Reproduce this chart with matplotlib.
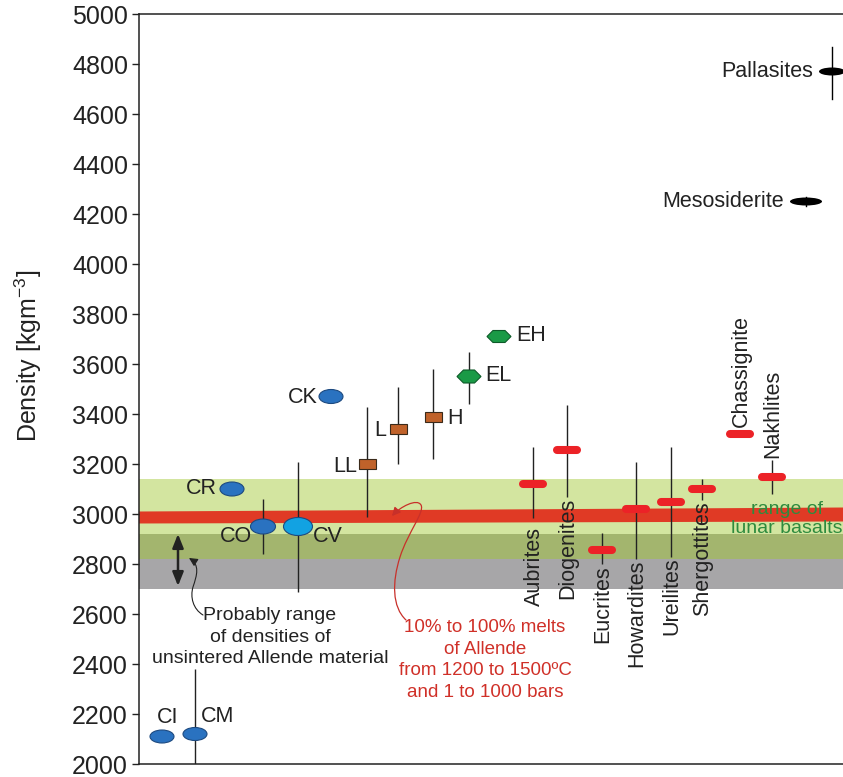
import numpy as np
import matplotlib
matplotlib.use("Agg")
import matplotlib.pyplot as plt
from matplotlib.patches import Ellipse, Polygon, Rectangle, FancyArrowPatch
from matplotlib.path import Path

plt.rcParams["font.family"] = ["Liberation Sans", "DejaVu Sans"]
plt.rcParams["mathtext.fontset"] = "custom"
plt.rcParams["mathtext.rm"] = "Liberation Sans"
plt.rcParams["mathtext.default"] = "regular"

# chondrite groups: mean bulk density and spread (kg m^-3)
chon_names = ["CI", "CM", "CO", "CV", "CR", "CK", "LL", "L", "H", "EL", "EH"]
chon_rho = [2110, 2120, 2950, 2950, 3100, 3470, 3200, 3340, 3390, 3550, 3710]
chon_lo = [None, 1990, 2840, 2690, None, None, 2990, 3200, 3220, 3440, None]
chon_hi = [None, 2380, 3060, 3210, None, None, 3430, 3510, 3580, 3650, None]

# achondrites
achon_names = ["Aubrites", "Diogenites", "Eucrites", "Howardites", "Ureilites",
               "Shergottites", "Chassignite", "Nakhlites"]
achon_rho = [3120, 3255, 2855, 3020, 3050, 3100, 3320, 3150]
achon_lo = [2985, 3068, 2800, 2820, 2830, 3056, None, 3080]
achon_hi = [3270, 3435, 2925, 3210, 3270, 3140, None, 3215]

# stony-irons
si_names = ["Pallasites", "Mesosiderite"]
si_rho = [4770, 4250]
si_lo = [4660, 4232]
si_hi = [4870, 4268]

lunar_basalts = (2820, 3140)
unsintered_allende = (2700, 2920)
melt_left = (2962, 3010)
melt_right = (2970, 3026)

# horizontal layout (x axis is just a slot position)
chon_x = [162, 195, 263, 298, 232, 331, 367, 398, 433, 469, 499]
achon_x = [533, 567, 602, 636, 671, 702, 740, 772]
si_x = [832, 806]
X0, X1 = 139, 843
PX = 4.0  # density units per pixel vertically

fig = plt.figure(figsize=(8.43, 7.77), dpi=100)
ax = fig.add_axes([X0 / 843, 13 / 777, (X1 - X0) / 843, 750 / 777])
ax.set_xlim(X0, X1)
ax.set_ylim(2000, 5000)

# density bands
lo_g, hi_g = lunar_basalts
lo_a, hi_a = unsintered_allende
ax.add_patch(Rectangle((X0, lo_g), X1 - X0, hi_g - lo_g, color="#d3e5a0", lw=0, zorder=0))
ax.add_patch(Rectangle((X0, lo_a), X1 - X0, hi_a - lo_a, color="#a7a6a8", lw=0, zorder=0.1))
ax.add_patch(Rectangle((X0, max(lo_g, lo_a)), X1 - X0, min(hi_g, hi_a) - max(lo_g, lo_a),
                       color="#a3b56e", lw=0, zorder=0.2))
ax.add_patch(Polygon([(X0, melt_left[0]), (X1, melt_right[0]), (X1, melt_right[1]), (X0, melt_left[1])],
                     closed=True, color="#e03a25", lw=0, zorder=0.5))

DARK = "#222222"


def vline(x, lo, hi):
    if lo is not None:
        ax.plot([x, x], [lo, hi], color=DARK, lw=1.0, zorder=2, solid_capstyle="butt")


def hexagon(x, y, w, h, **kw):
    a = h / 2
    pts = [(x - w / 2, y), (x - w / 2 + a, y + h / 2 * PX), (x + w / 2 - a, y + h / 2 * PX),
           (x + w / 2, y), (x + w / 2 - a, y - h / 2 * PX), (x - w / 2 + a, y - h / 2 * PX)]
    ax.add_patch(Polygon(pts, closed=True, **kw))


# chondrites
chon_style = {
    "CI": ("ell", 24, 13, "#2a72c0"), "CM": ("ell", 24, 13, "#2a72c0"),
    "CO": ("ell", 25, 15, "#2a72c0"), "CV": ("ell", 29, 18, "#12a2e2"),
    "CR": ("ell", 24, 14, "#2a72c0"), "CK": ("ell", 24, 14, "#2a72c0"),
    "LL": ("sq", 17, 10, "#c0622a"), "L": ("sq", 17, 10, "#c0622a"),
    "H": ("sq", 17, 10, "#c0622a"), "EL": ("hex", 24, 13, "#1a9a46"),
    "EH": ("hex", 24, 12, "#1a9a46"),
}
chon_lab = {
    "CI": (6, 19, "center"), "CM": (23, 18, "center"), "CO": (-11, -10, "right"),
    "CV": (15, -10, "left"), "CR": (-15, 0, "right"), "CK": (-13, -1, "right"),
    "LL": (-10, -2, "right"), "L": (-12, -2, "right"), "H": (14, -2, "left"),
    "EL": (16, 1, "left"), "EH": (17, 1, "left"),
}
for name, x, rho, lo, hi in zip(chon_names, chon_x, chon_rho, chon_lo, chon_hi):
    vline(x, lo, hi)
    kind, w, h, col = chon_style[name]
    if kind == "ell":
        ax.add_patch(Ellipse((x, rho), w, h * PX, facecolor=col, edgecolor="#1d4a80", lw=0.8, zorder=3))
    elif kind == "sq":
        ax.add_patch(Rectangle((x - w / 2, rho - h / 2 * PX), w, h * PX, facecolor=col,
                               edgecolor="#3a2a1a", lw=0.8, zorder=3))
    else:
        hexagon(x, rho, w, h, facecolor=col, edgecolor="#0d5a28", lw=0.8, zorder=3)
    dx, dy, ha = chon_lab[name]
    ax.text(x + dx, rho + dy * PX, name, ha=ha, va="center", fontsize=15.5, color=DARK, zorder=4)

# achondrites
for name, x, rho, lo, hi in zip(achon_names, achon_x, achon_rho, achon_lo, achon_hi):
    vline(x, lo, hi)
    ax.plot([x - 10, x + 10], [rho, rho], color="#ec2227", lw=5.8, solid_capstyle="round", zorder=3)
    if name in ("Chassignite", "Nakhlites"):
        top = rho + 5 * PX if hi is None else hi
        ax.text(x + 1, top + 2 * PX, name, rotation=90, ha="center", va="bottom",
                fontsize=15.5, color=DARK, zorder=4)
    else:
        gap = 9 if name == "Aubrites" else 1
        ax.text(x + 1, lo - gap * PX, name, rotation=90, ha="center", va="top",
                fontsize=15.5, color=DARK, zorder=4)

# stony-irons
si_w = [26, 32]
for name, x, rho, lo, hi, w in zip(si_names, si_x, si_rho, si_lo, si_hi, si_w):
    ax.plot([x, x], [lo, hi], color="black", lw=1.0, zorder=2)
    ax.add_patch(Ellipse((x, rho), w, 8 * PX, facecolor="black", edgecolor="none", zorder=3))
    ax.text(x - w / 2 - 6, rho, name, ha="right", va="center", fontsize=15.5, color=DARK)

# annotations
ax.text(787, 2980, "range of\nlunar basalts", ha="center", va="center", fontsize=14,
        color="#2e8b3e", linespacing=1.15, zorder=4)
ax.text(270, 2508, "Probably range\nof densities of\nunsintered Allende material",
        ha="center", va="center", fontsize=14, color=DARK, linespacing=1.32)
ax.text(485, 2416, "10% to 100% melts\nof Allende\nfrom 1200 to 1500ºC\nand 1 to 1000 bars",
        ha="center", va="center", fontsize=13.5, color="#d03028", linespacing=1.36)

ax.annotate("", xy=(178, 2712), xytext=(178, 2920),
            arrowprops=dict(arrowstyle="<|-|>,head_length=0.55,head_width=0.22", lw=1.8,
                            color=DARK, mutation_scale=15, shrinkA=0, shrinkB=0), zorder=4)

C4 = Path.CURVE4
black_curve = Path([(203, 2596), (193, 2620), (190, 2668), (193, 2708),
                    (197, 2756), (200, 2796), (189, 2824)],
                   [Path.MOVETO, C4, C4, C4, C4, C4, C4])
ax.add_patch(FancyArrowPatch(path=black_curve, arrowstyle="-|>,head_length=0.5,head_width=0.25",
                             mutation_scale=10, lw=0.8, color=DARK, zorder=4))
red_curve = Path([(406, 2576), (392, 2628), (392, 2728), (400, 2828),
                  (408, 2928), (425, 3008), (421, 3036),
                  (417, 3064), (400, 3028), (392, 2992)],
                 [Path.MOVETO, C4, C4, C4, C4, C4, C4, C4, C4, C4])
ax.add_patch(FancyArrowPatch(path=red_curve, arrowstyle="-|>,head_length=0.5,head_width=0.25",
                             mutation_scale=10, lw=0.9, color="#c8302a", zorder=4))

# axes styling
for side in ("left", "top", "bottom"):
    ax.spines[side].set_linewidth(1.1)
    ax.spines[side].set_color(DARK)
ax.spines["right"].set_visible(False)
ax.set_xticks([])
ax.set_yticks(np.arange(2000, 5001, 200))
ax.tick_params(axis="y", direction="out", length=5, width=1, pad=3, labelsize=18,
               colors=DARK)
fig.text(28 / 843, 1 - 356 / 777, "Density [kgm$^{-3}$]", rotation=90, ha="center",
         va="center", fontsize=18, color=DARK)

fig.savefig("out.png", dpi=100)
